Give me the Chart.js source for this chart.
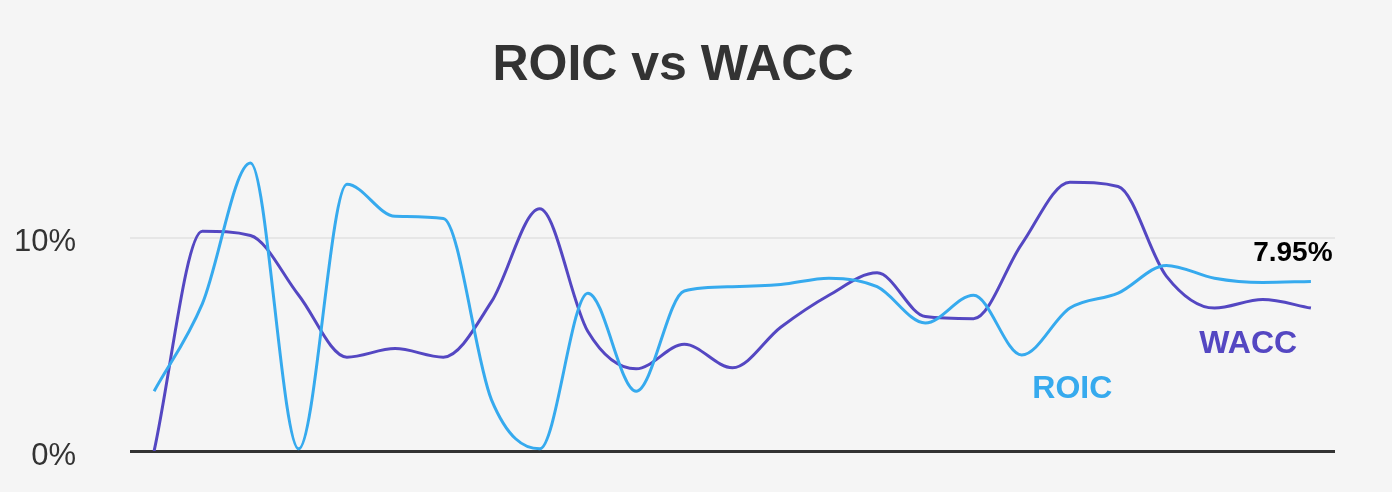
<!DOCTYPE html>
<html>
<head>
<meta charset="utf-8">
<script src="https://cdn.jsdelivr.net/npm/chart.js@4.4.1/dist/chart.umd.min.js"></script>
<style>
  html, body { margin: 0; padding: 0; background: #f5f5f5; }
  #wrap { position: relative; width: 1392px; height: 492px; }
  #title {
    position: absolute; left: 0; top: 34px; width: 1346px; text-align: center;
    font: bold 50px "Liberation Sans", Arial, sans-serif; color: #333;
  }
  canvas { position: absolute; left: 0; top: 0; }
</style>
</head>
<body>
<div id="wrap">
  <div id="title">ROIC vs WACC</div>
  <canvas id="chart" width="1392" height="492"></canvas>
</div>
<script>
const ROIC_COLOR = "#36aaee";
const WACC_COLOR = "#5447c2";

// 25 yearly points, values in %
const periods = ["1","2","3","4","5","6","7","8","9","10","11","12","13","14","15","16","17","18","19","20","21","22","23","24","25"];
const roic = [2.8, 6.9, 13.5, 0.1, 12.5, 11.0, 10.9, 2.4, 0.1, 7.4, 2.8, 7.5, 7.7, 7.8, 8.1, 7.7, 6.0, 7.3, 4.5, 6.7, 7.4, 8.7, 8.1, 7.9, 7.95];
const wacc = [0.0, 10.3, 10.1, 7.3, 4.4, 4.8, 4.4, 7.0, 11.35, 5.6, 3.85, 5.0, 3.9, 5.8, 7.3, 8.35, 6.3, 6.2, 9.7, 12.6, 12.4, 8.2, 6.7, 7.1, 6.7];
const yTicks = [0, 10];

// text labels placed on the chart, in data units (x = period index)
const lineLabels = [
  { text: "ROIC", x: 19.05, y: 2.9, color: ROIC_COLOR, size: 32, align: "center" },
  { text: "WACC", x: 22.7, y: 5.0, color: WACC_COLOR, size: 32, align: "center" },
  { text: roic[roic.length - 1].toFixed(2) + "%", x: 24.45, y: 9.25, color: "#000", size: 28, align: "right" }
];

const labelPlugin = {
  id: "lineLabels",
  afterDatasetsDraw(chart) {
    const { ctx, scales } = chart;
    const step = scales.x.getPixelForValue(1) - scales.x.getPixelForValue(0);
    ctx.save();
    ctx.textBaseline = "middle";
    lineLabels.forEach(l => {
      ctx.font = `bold ${l.size}px "Liberation Sans", Arial, sans-serif`;
      ctx.fillStyle = l.color;
      ctx.textAlign = l.align;
      const px = scales.x.getPixelForValue(0) + l.x * step;
      ctx.fillText(l.text, px, scales.y.getPixelForValue(l.y));
    });
    ctx.restore();
  }
};

new Chart(document.getElementById("chart"), {
  type: "line",
  data: {
    labels: periods,
    datasets: [
      { label: "ROIC", data: roic, borderColor: ROIC_COLOR, borderWidth: 3, pointRadius: 0, cubicInterpolationMode: "monotone" },
      { label: "WACC", data: wacc, borderColor: WACC_COLOR, borderWidth: 3, pointRadius: 0, cubicInterpolationMode: "monotone" }
    ]
  },
  options: {
    responsive: false,
    maintainAspectRatio: false,
    animation: false,
    layout: { padding: { top: 131, bottom: 41, right: 57, left: 0 } },
    plugins: { legend: { display: false }, tooltip: { enabled: false }, title: { display: false } },
    scales: {
      x: {
        type: "category",
        offset: true,
        display: false
      },
      y: {
        min: 0,
        max: 15,
        afterBuildTicks: s => { s.ticks = yTicks.map(v => ({ value: v })); },
        afterFit: s => { s.width = 130; },
        border: { display: false },
        grid: {
          drawTicks: true,
          tickLength: 54,
          tickColor: "rgba(0,0,0,0)",
          color: c => c.tick && c.tick.value === 0 ? "#333" : "#e6e6e6",
          lineWidth: c => c.tick && c.tick.value === 0 ? 3 : 2
        },
        ticks: {
          padding: 0,
          labelOffset: 5,
          color: "#333",
          font: { family: "'Liberation Sans', Arial, sans-serif", size: 31 },
          callback: v => v + "%"
        }
      }
    }
  },
  plugins: [labelPlugin]
});
</script>
</body>
</html>
